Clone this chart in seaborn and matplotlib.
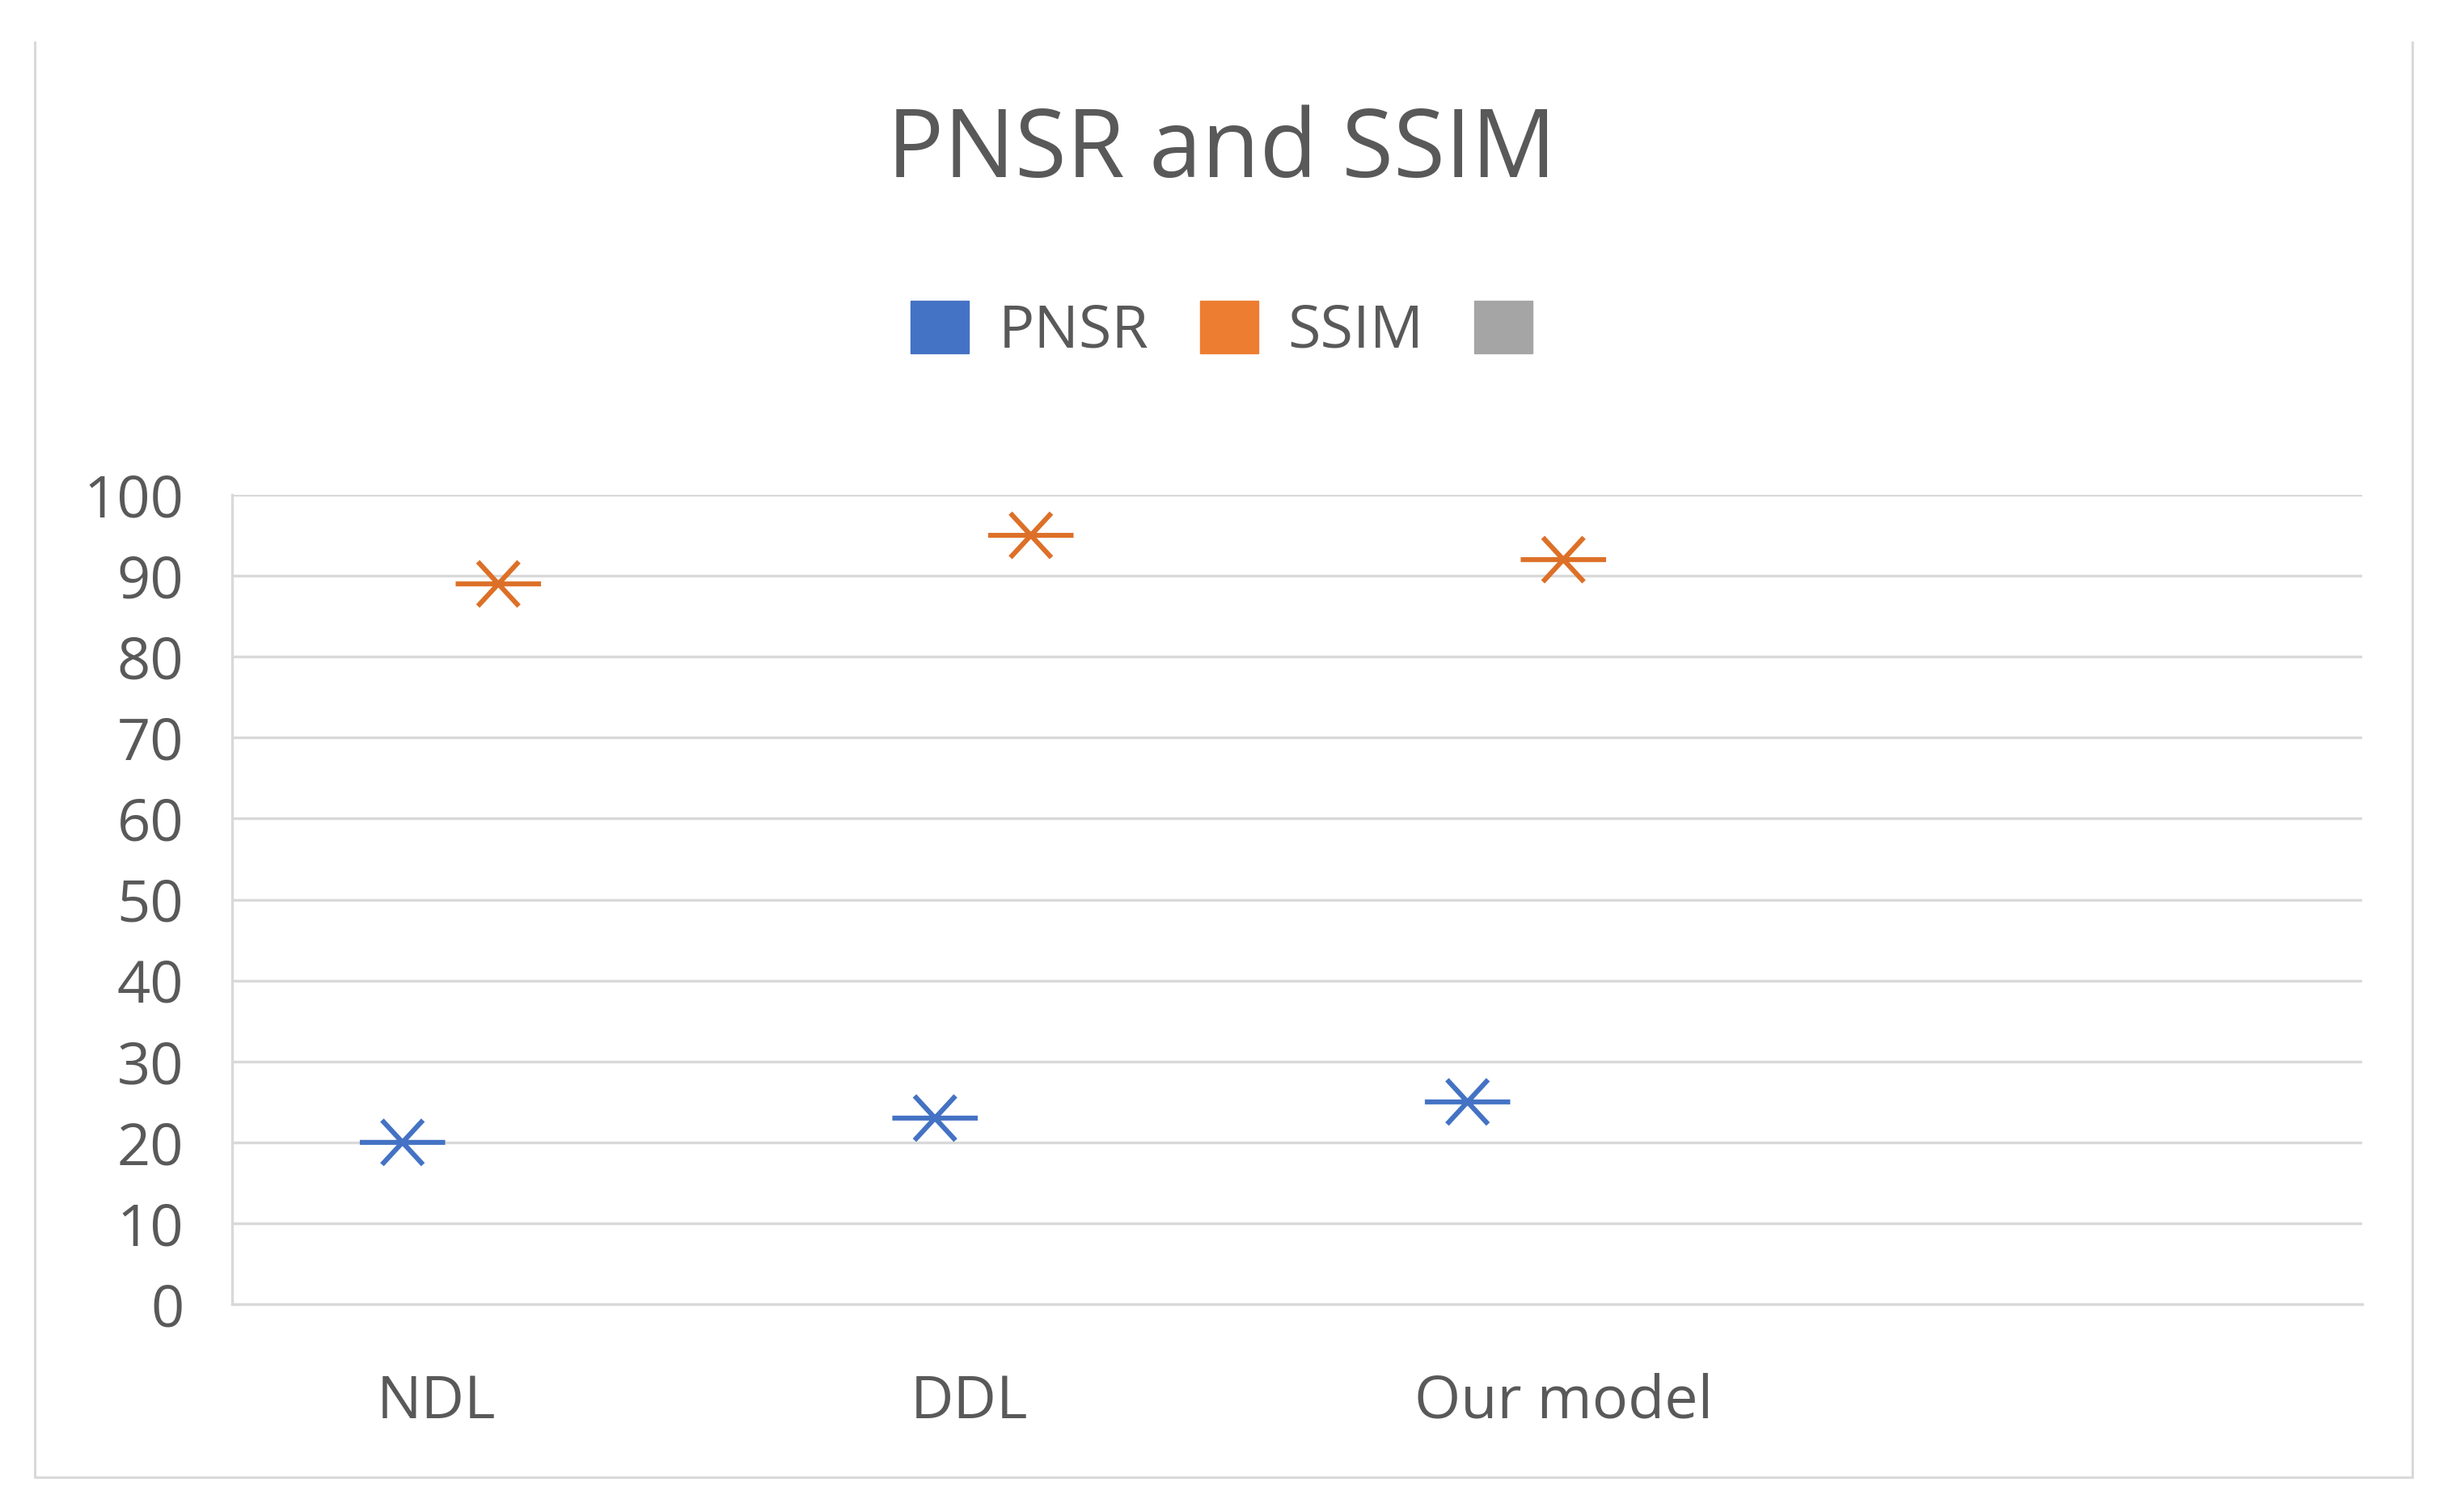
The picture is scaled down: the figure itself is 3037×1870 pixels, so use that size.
import numpy as np
import pandas as pd
import matplotlib
matplotlib.use("Agg")
import matplotlib.pyplot as plt
import matplotlib.transforms as mtransforms
from matplotlib.path import Path
from matplotlib.markers import MarkerStyle
from matplotlib.patches import Patch
from matplotlib.lines import Line2D
import seaborn as sns

# ---------------- data ----------------
categories = ["NDL", "DDL", "Our model", ""]
series_names = ["PNSR", "SSIM", ""]
series_colors = ["#4472C4", "#DD7028", "#A5A5A5"]
legend_colors = ["#4472C4", "#ED7D31", "#A5A5A5"]
pnsr_values = [20, 23, 25]
ssim_values = [89, 95, 92]
y_ticks = [0, 10, 20, 30, 40, 50, 60, 70, 80, 90, 100]

# ---------------- style ----------------
sns.set_theme(style="white")
plt.rcParams["font.family"] = ["Open Sans", "DejaVu Sans"]
text_color = "#595959"
grid_color = "#D9D9D9"

fig = plt.figure(figsize=(30.37, 18.70), dpi=100)
ax = fig.add_axes([0.0945, 0.1374, 0.8673, 0.5353])

# long-format table
rows = []
dodge = {"PNSR": -0.18, "SSIM": 0.0}
for name, vals in (("PNSR", pnsr_values), ("SSIM", ssim_values)):
    for i, v in enumerate(vals):
        rows.append({"method": categories[i], "metric": name,
                     "value": v, "xpos": i + dodge[name]})
df = pd.DataFrame(rows)

# Excel-like asterisk marker: long horizontal bar + X
verts = [(-1, 0), (1, 0),
         (-0.48, -0.52), (0.48, 0.52),
         (-0.48, 0.52), (0.48, -0.52)]
codes = [Path.MOVETO, Path.LINETO] * 3
star = MarkerStyle(Path(verts, codes), fillstyle="none")

for name, color in zip(series_names[:2], series_colors[:2]):
    sub = df[df["metric"] == name]
    sns.scatterplot(data=sub, x="xpos", y="value", color=color,
                    marker=star, s=76 ** 2, linewidth=4.4, legend=False,
                    ax=ax, zorder=3)

# axes
ax.set_xlim(-0.5, len(categories) - 0.5)
ax.set_ylim(0, 100)
ax.set_yticks(y_ticks)
ax.set_yticklabels([str(t) for t in y_ticks])
ax.set_xticks(range(len(categories)))
ax.set_xticklabels(categories)
ax.set_xlabel("")
ax.set_ylabel("")
ax.yaxis.grid(True, color=grid_color, linewidth=2.4)
ax.xaxis.grid(False)
ax.set_axisbelow(True)
for s in ["top", "right"]:
    ax.spines[s].set_visible(False)
for s in ["left", "bottom"]:
    ax.spines[s].set_color(grid_color)
    ax.spines[s].set_linewidth(2.4)
ax.tick_params(axis="y", length=0, pad=43, labelsize=52, labelcolor=text_color)
ax.tick_params(axis="x", length=0, pad=61, labelsize=53, labelcolor=text_color)

# the first two category labels sit left of centre in the original
shifts_px = [-77, -76, 0, 0]
for lab, dx in zip(ax.get_xticklabels(), shifts_px):
    lab.set_transform(lab.get_transform() +
                      mtransforms.ScaledTranslation(dx / 100, 0, fig.dpi_scale_trans))

# title
fig.text(0.4975, 0.899, "PNSR and SSIM", ha="center", va="center",
         fontsize=84, color=text_color)

# legend
handles = [Patch(facecolor=c, edgecolor=c) for c in legend_colors]
fig.legend(handles, series_names, loc="center", bbox_to_anchor=(0.5035, 0.781),
           ncol=3, frameon=False, fontsize=53, handlelength=0.98,
           handleheight=0.98, handletextpad=0.5, columnspacing=0.85,
           labelcolor=text_color)

# outer chart frame
frame_kw = dict(color=grid_color, linewidth=2.2, transform=fig.transFigure)
fig.add_artist(Line2D([0.0142, 0.0142], [0.023, 0.972], **frame_kw))
fig.add_artist(Line2D([0.9822, 0.9822], [0.023, 0.972], **frame_kw))
fig.add_artist(Line2D([0.0142, 0.9822], [0.023, 0.023], **frame_kw))

fig.savefig("out.png", dpi=100, facecolor="white")
